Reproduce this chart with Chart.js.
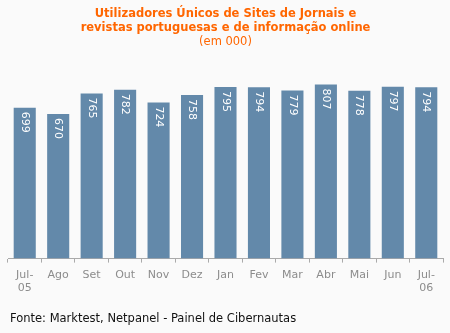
<!DOCTYPE html>
<html>
<head>
<meta charset="utf-8">
<script src="https://cdn.jsdelivr.net/npm/chart.js@4/dist/chart.umd.min.js"></script>
<style>
  html, body { margin: 0; padding: 0; background: #fafafa; }
  #wrap { position: relative; width: 450px; height: 333px; }
  #fonte { position: absolute; left: 10px; top: 311px; font-family: 'DejaVu Sans'; font-size: 11.5px; color: #111; white-space: nowrap; }
</style>
</head>
<body>
<div id="wrap">
  <canvas id="chart" width="450" height="333"></canvas>
  <div id="fonte">Fonte: Marktest, Netpanel - Painel de Cibernautas</div>
</div>
<script>
const months = [['Jul-', '05'], 'Ago', 'Set', 'Out', 'Nov', 'Dez', 'Jan', 'Fev', 'Mar', 'Abr', 'Mai', 'Jun', ['Jul-', '06']];
const utilizadores = [699, 670, 765, 782, 724, 758, 795, 794, 779, 807, 778, 797, 794];

const FONT = "'DejaVu Sans', sans-serif";

// valores escritos dentro das barras, rodados
const barValues = {
    id: 'barValues',
    afterDatasetsDraw(chart) {
        const c = chart.ctx;
        const meta = chart.getDatasetMeta(0);
        c.save();
        c.fillStyle = '#ffffff';
        c.font = '11px ' + FONT;
        c.textAlign = 'left';
        c.textBaseline = 'middle';
        meta.data.forEach((bar, i) => {
            c.save();
            c.translate(bar.x, bar.y + 4);
            c.rotate(Math.PI / 2);
            c.fillText(String(utilizadores[i]), 0, 0);
            c.restore();
        });
        c.restore();
    }
};

const ctx = document.getElementById('chart').getContext('2d');
new Chart(ctx, {
    type: 'bar',
    data: {
        labels: months,
        datasets: [{
            data: utilizadores,
            backgroundColor: '#6389aa',
            barPercentage: 0.66,
            categoryPercentage: 1
        }]
    },
    plugins: [barValues],
    options: {
        responsive: false,
        animation: false,
        layout: { padding: { left: 8, right: 7, top: 0, bottom: 32 } },
        plugins: {
            legend: { display: false },
            tooltip: { enabled: false },
            title: {
                display: true,
                text: ['Utilizadores Únicos de Sites de Jornais e', 'revistas portuguesas e de informação online'],
                color: '#ff6600',
                font: { family: FONT, size: 11.5, weight: 'bold', lineHeight: 1.2 },
                padding: { top: 7, bottom: 0 }
            },
            subtitle: {
                display: true,
                text: '(em 000)',
                color: '#ff6600',
                font: { family: FONT, size: 11.5, lineHeight: 1.2 },
                padding: { top: 1, bottom: 15 }
            }
        },
        scales: {
            x: {
                offset: true,
                grid: { offset: true, drawOnChartArea: false, drawTicks: true, tickLength: 4, color: '#aaaaaa' },
                border: { color: '#aaaaaa' },
                ticks: {
                    color: '#8c8c8c',
                    font: { family: FONT, size: 11 },
                    maxRotation: 0,
                    autoSkip: false,
                    padding: 6
                }
            },
            y: {
                display: false,
                min: 0,
                max: 900
            }
        }
    }
});
</script>
</body>
</html>
